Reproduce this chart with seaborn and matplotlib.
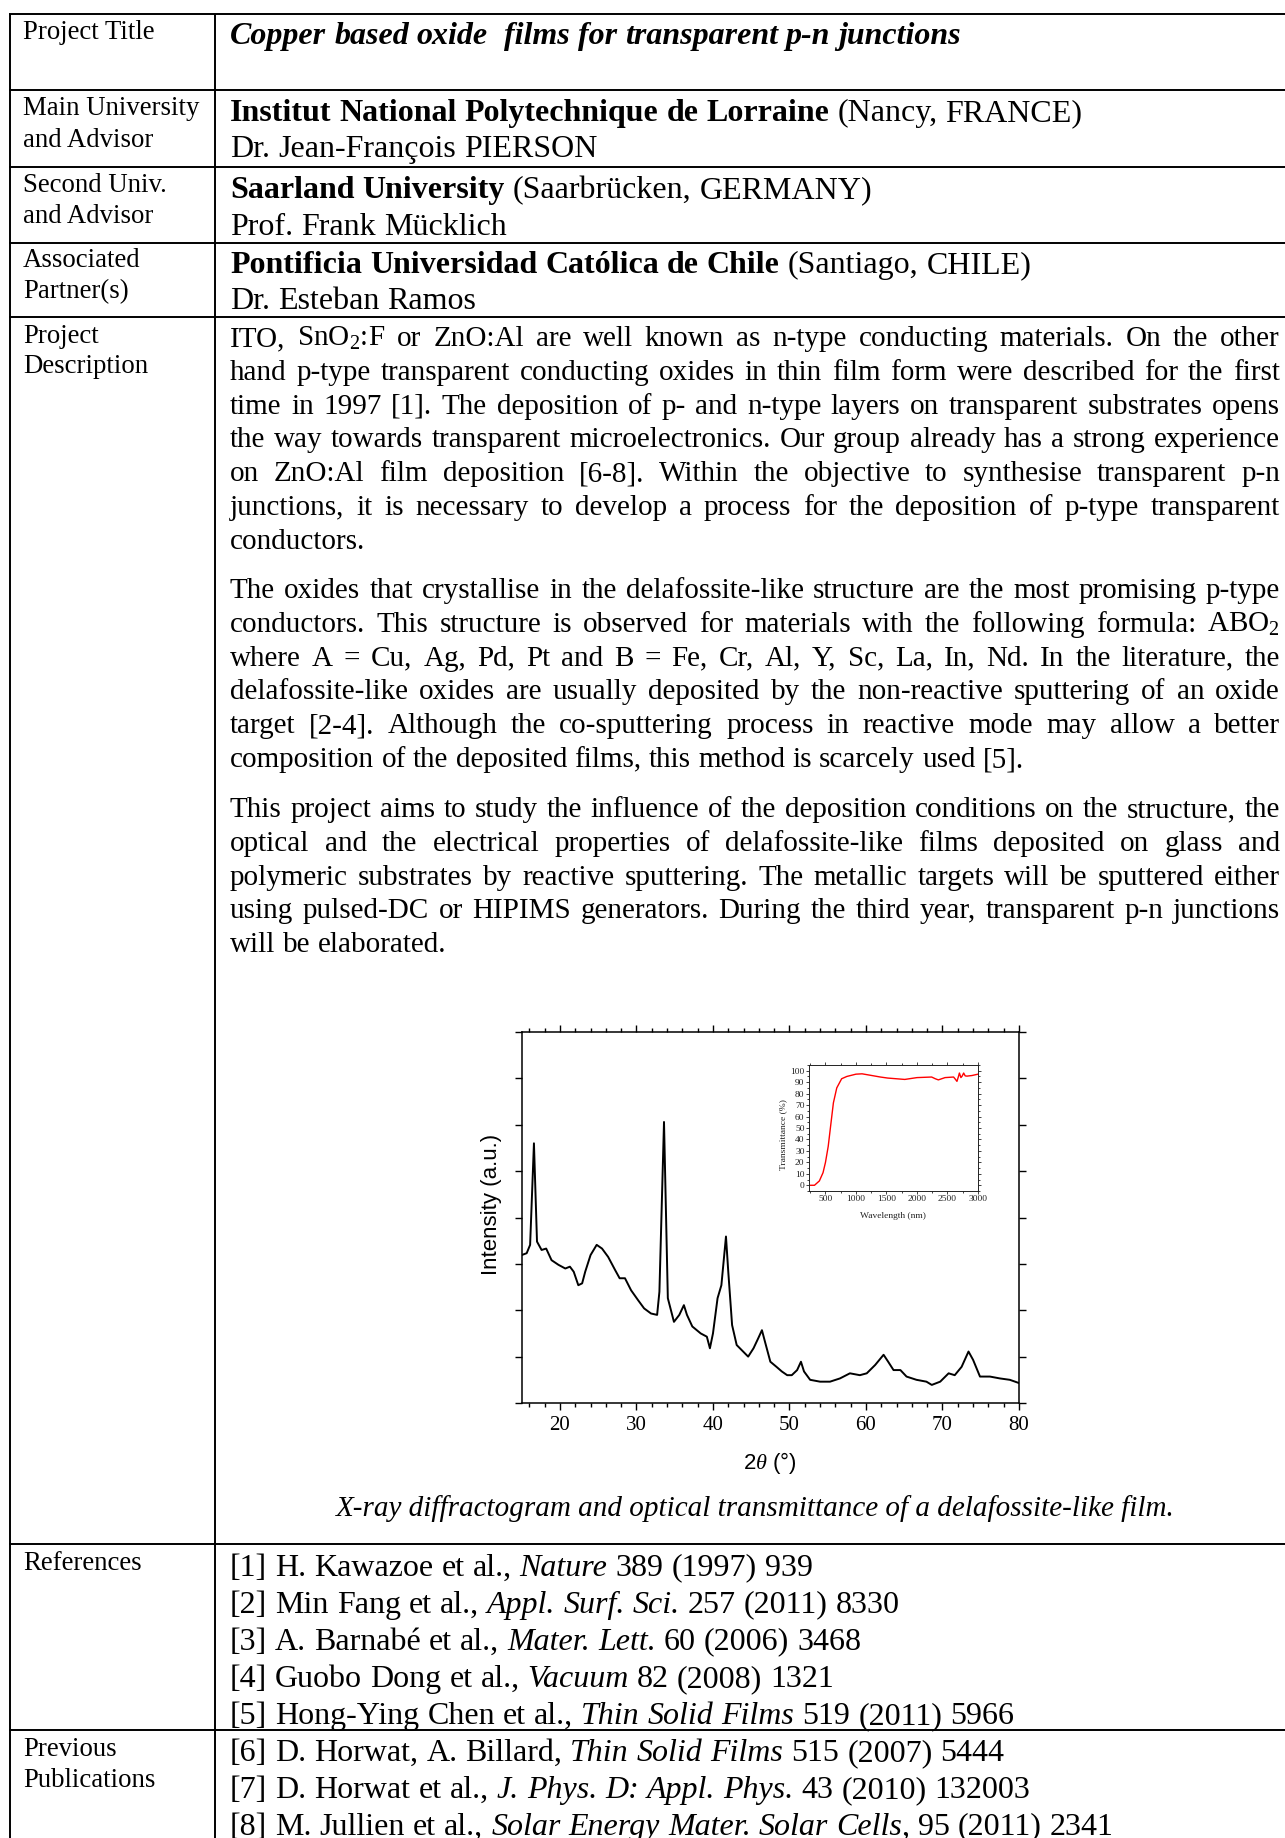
import re
import numpy as np
import pandas as pd
import seaborn as sns
import matplotlib
matplotlib.use('Agg')
import matplotlib.pyplot as plt
from matplotlib.ticker import MultipleLocator

sns.set_theme(style='white')
plt.rcParams['font.family'] = ['Liberation Serif', 'DejaVu Serif']
plt.rcParams['mathtext.fontset'] = 'custom'
plt.rcParams['mathtext.rm'] = 'Liberation Serif'
plt.rcParams['mathtext.it'] = 'Liberation Serif:italic'
plt.rcParams['mathtext.bf'] = 'Liberation Serif:bold'
plt.rcParams['axes.edgecolor'] = 'black'

# XRD pattern (intensity in tick units, 0 = bottom axis)
two_theta = [15.0, 15.65, 16.1, 16.6, 17.0, 17.6, 18.2, 18.9, 19.8, 20.7, 21.3, 21.8,
             22.4, 22.9, 23.3, 24.0, 24.8, 25.5, 26.3, 27.2, 27.8, 28.5, 29.3, 30.2,
             31.0, 31.9, 32.7, 33.0, 33.6, 34.1, 34.9, 35.6, 36.2, 36.6, 37.3, 38.4,
             39.2, 39.6, 40.0, 40.6, 41.1, 41.7, 42.0, 42.5, 43.1, 44.0, 44.6, 45.3,
             45.9, 46.4, 46.8, 47.5, 48.3, 49.0, 49.7, 50.3, 51.0, 51.5, 51.9, 52.7,
             54.0, 55.3, 56.6, 57.9, 59.2, 60.1, 61.2, 62.3, 62.9, 63.6, 64.5, 65.3,
             66.6, 67.9, 68.6, 69.7, 70.8, 71.6, 72.5, 73.4, 74.0, 74.9, 76.2, 77.5,
             78.8, 80.0]
intensity = [3.19, 3.23, 3.41, 5.6, 3.48, 3.3, 3.33, 3.08, 2.98, 2.9, 2.94, 2.83,
             2.54, 2.58, 2.83, 3.19, 3.41, 3.33, 3.15, 2.87, 2.69, 2.69, 2.43, 2.22,
             2.04, 1.93, 1.9, 2.4, 6.06, 2.26, 1.75, 1.9, 2.11, 1.9, 1.65, 1.5,
             1.43, 1.18, 1.5, 2.26, 2.54, 3.59, 2.83, 1.68, 1.25, 1.1, 1.0, 1.18,
             1.39, 1.57, 1.32, 0.89, 0.78, 0.68, 0.6, 0.6, 0.71, 0.89, 0.68, 0.5,
             0.46, 0.46, 0.53, 0.64, 0.6, 0.64, 0.82, 1.04, 0.89, 0.71, 0.71, 0.57,
             0.5, 0.46, 0.39, 0.46, 0.64, 0.6, 0.78, 1.11, 0.93, 0.57, 0.57, 0.53,
             0.5, 0.43]

# optical transmittance (inset)
wavelength = [250, 320, 400, 460, 500, 545, 585, 630, 685, 765, 850, 1000, 1100, 1240,
              1400, 1520, 1800, 2000, 2240, 2300, 2350, 2460, 2600, 2630, 2655, 2680,
              2695, 2720, 2740, 2765, 2790, 2820, 2900, 3000]
transmittance = [0, 0, 3.8, 11, 20, 34, 52, 72, 85, 93, 95, 97, 97.3, 96,
                 94.5, 93.6, 92.4, 94, 94.5, 93, 92, 94, 94.5, 92.5, 90.7, 95,
                 98, 94, 95.3, 98, 95.5, 95.3, 95.8, 97]

# page text
row_labels = [(39, "Project Title"), (115, "Main University"), (147, "and Advisor"),
              (192, "Second Univ."), (223, "and Advisor"), (267, "Associated"),
              (298, "Partner(s)"), (343, "Project"), (373, "Description"),
              (1570, "References"), (1756, "Previous"), (1787, "Publications")]

header_lines = [
    (44, [("Copper based oxide  films for transparent p-n junctions", 'bold', 'italic')]),
    (121, [("Institut National Polytechnique de Lorraine", 'bold', 'normal'),
           (" (Nancy, FRANCE)", 'normal', 'normal')]),
    (157, [("Dr. Jean-François PIERSON", 'normal', 'normal')]),
    (198, [("Saarland University", 'bold', 'normal'),
           (" (Saarbrücken, GERMANY)", 'normal', 'normal')]),
    (235, [("Prof. Frank Mücklich", 'normal', 'normal')]),
    (273, [("Pontificia Universidad Católica de Chile", 'bold', 'normal'),
           (" (Santiago, CHILE)", 'normal', 'normal')]),
    (309, [("Dr. Esteban Ramos", 'normal', 'normal')]),
]

para1 = ["ITO, SnO$_2$:F or ZnO:Al are well known as n-type conducting materials. On the other",
         "hand p-type transparent conducting oxides in thin film form were described for the first",
         "time in 1997 [1]. The deposition of p- and n-type layers on transparent substrates opens",
         "the way towards transparent microelectronics. Our group already has a strong experience",
         "on ZnO:Al film deposition [6-8]. Within the objective to synthesise transparent p-n",
         "junctions, it is necessary to develop a process for the deposition of p-type transparent",
         "conductors."]
para2 = ["The oxides that crystallise in the delafossite-like structure are the most promising p-type",
         "conductors. This structure is observed for materials with the following formula: ABO$_2$",
         "where A = Cu, Ag, Pd, Pt and B = Fe, Cr, Al, Y, Sc, La, In, Nd. In the literature, the",
         "delafossite-like oxides are usually deposited by the non-reactive sputtering of an oxide",
         "target [2-4]. Although the co-sputtering process in reactive mode may allow a better",
         "composition of the deposited films, this method is scarcely used [5]."]
para3 = ["This project aims to study the influence of the deposition conditions on the structure, the",
         "optical and the electrical properties of delafossite-like films deposited on glass and",
         "polymeric substrates by reactive sputtering. The metallic targets will be sputtered either",
         "using pulsed-DC or HIPIMS generators. During the third year, transparent p-n junctions",
         "will be elaborated."]

caption = "X-ray diffractogram and optical transmittance of a delafossite-like film."

N, I = 'normal', 'italic'
references = [
    [("[1] H. Kawazoe et al., ", N), ("Nature", I), (" 389 (1997) 939", N)],
    [("[2] Min Fang et al., ", N), ("Appl. Surf. Sci.", I), (" 257 (2011) 8330", N)],
    [("[3] A. Barnabé et al., ", N), ("Mater. Lett.", I), (" 60 (2006) 3468", N)],
    [("[4] Guobo Dong et al., ", N), ("Vacuum", I), (" 82 (2008) 1321", N)],
    [("[5] Hong-Ying Chen et al., ", N), ("Thin Solid Films", I), (" 519 (2011) 5966", N)],
]
publications = [
    [("[6] D. Horwat, A. Billard, ", N), ("Thin Solid Films", I), (" 515 (2007) 5444", N)],
    [("[7] D. Horwat et al., ", N), ("J. Phys. D: Appl. Phys.", I), (" 43 (2010) 132003", N)],
    [("[8] M. Jullien et al., ", N), ("Solar Energy Mater. Solar Cells", I), (", 95 (2011) 2341", N)],
]

W, H = 1285, 1838
fig = plt.figure(figsize=(W / 100, H / 100), dpi=100)
fig.patch.set_facecolor('white')
page = fig.add_axes([0, 0, 1, 1])
page.set_xlim(0, W)
page.set_ylim(H, 0)
page.axis('off')
rend = fig.canvas.get_renderer()

LEFT, RIGHT = 230, 1280


def put(x, y, s, size, weight='normal', style='normal'):
    return page.text(x, y, s, fontsize=size, fontweight=weight, fontstyle=style,
                     ha='left', va='baseline', color='black')


def wid(t):
    return t.get_window_extent(rend).width


def runs_line(x, y, runs, size):
    sp = size * 100 / 72 * 0.25
    for run in runs:
        s, weight, style = run if len(run) == 3 else (run[0], 'normal', run[1])
        for tok in re.split(r'( )', s):
            if tok == ' ':
                x += sp
            elif tok:
                t = put(x, y, tok, size, weight, style)
                x += wid(t)
    return x


def justify(y, line, size, last=False):
    words = line.split(' ')
    ts = [put(LEFT, y, w, size) for w in words]
    ws = [wid(t) for t in ts]
    if last or len(ws) < 2:
        gap = size * 100 / 72 * 0.25
    else:
        gap = (RIGHT - LEFT - sum(ws)) / (len(ws) - 1)
    x = LEFT
    for t, w in zip(ts, ws):
        t.set_x(x)
        x += w + gap


# table rules
lw = 1.4
for yy in [14, 90, 166.5, 242.5, 316.5, 1544, 1730]:
    page.plot([9, W], [yy, yy], color='black', lw=lw, solid_capstyle='butt')
for xx in [9.5, 214.5]:
    page.plot([xx, xx], [13.5, H], color='black', lw=lw, solid_capstyle='butt')

for yy, s in row_labels:
    put(23, yy, s, 19.3)

for yy, runs in header_lines:
    runs_line(LEFT, yy, runs, 23)

body = 21
for start, para in [(346, para1), (598, para2), (817, para3)]:
    for i, line in enumerate(para):
        justify(start + i * 33.8, line, body, last=(i == len(para) - 1))

page.text(755, 1516, caption, fontsize=21, fontstyle='italic', ha='center',
          va='baseline', color='black')

for i, runs in enumerate(references):
    runs_line(LEFT, 1575.5 + i * 37.1, runs, 23)
for i, runs in enumerate(publications):
    runs_line(LEFT, 1761 + i * 36.8, runs, 23)

# main XRD axes
ax = fig.add_axes([521.7 / W, 1 - 1403 / H, 497.3 / W, 371 / H])
ax.set_facecolor('white')
xrd = pd.DataFrame({'two_theta': two_theta, 'intensity': intensity})
sns.lineplot(data=xrd, x='two_theta', y='intensity', ax=ax, color='black', linewidth=1.4)
ax.set_xlim(15, 80)
ax.set_ylim(0, 8)
ax.xaxis.set_major_locator(MultipleLocator(10))
ax.xaxis.set_minor_locator(MultipleLocator(2))
ax.yaxis.set_major_locator(MultipleLocator(1))
ax.tick_params(which='both', direction='out', top=True, right=True, bottom=True, left=True,
               colors='black', width=1.0)
ax.tick_params(which='major', length=5, labelsize=15, pad=4.5)
ax.tick_params(which='minor', length=3)
ax.tick_params(axis='y', labelleft=False)
for s in ax.spines.values():
    s.set_linewidth(1.1)
    s.set_color('black')
ax.set_xlabel(r'2$\theta$ (°)', family='Liberation Sans', fontsize=16, color='black')
ax.set_ylabel('Intensity (a.u.)', family='Liberation Sans', fontsize=16, color='black')
ax.xaxis.set_label_coords(0.5, -0.127)
ax.yaxis.set_label_coords(-0.040, 0.535)
ax.grid(False)

# inset transmittance
ins = fig.add_axes([809 / W, 1 - 1191 / H, 169 / W, 126 / H])
ins.set_facecolor('white')
trans = pd.DataFrame({'wavelength': wavelength, 'transmittance': transmittance})
sns.lineplot(data=trans, x='wavelength', y='transmittance', ax=ins, color='red', linewidth=1.0)
ins.set_xlim(230, 3000)
ins.set_ylim(-5, 105)
ins.xaxis.set_major_locator(MultipleLocator(500))
ins.xaxis.set_minor_locator(MultipleLocator(250))
ins.yaxis.set_major_locator(MultipleLocator(10))
ins.yaxis.set_minor_locator(MultipleLocator(5))
ins.tick_params(which='both', direction='out', top=True, right=True, bottom=True, left=True,
                colors='#222222', width=0.6)
ins.tick_params(which='major', length=2.2, labelsize=6.8, pad=1)
ins.tick_params(which='minor', length=1.2)
for s in ins.spines.values():
    s.set_linewidth(0.7)
    s.set_color('#222222')
ins.set_xlabel('Wavelength (nm)', fontsize=6.8, color='#222222')
ins.set_ylabel('Transmittance (%)', fontsize=6.8, color='#222222')
ins.xaxis.set_label_coords(0.497, -0.167)
ins.yaxis.set_label_coords(-0.13, 0.444)
ins.grid(False)

fig.savefig('out.png', dpi=100, facecolor='white')
